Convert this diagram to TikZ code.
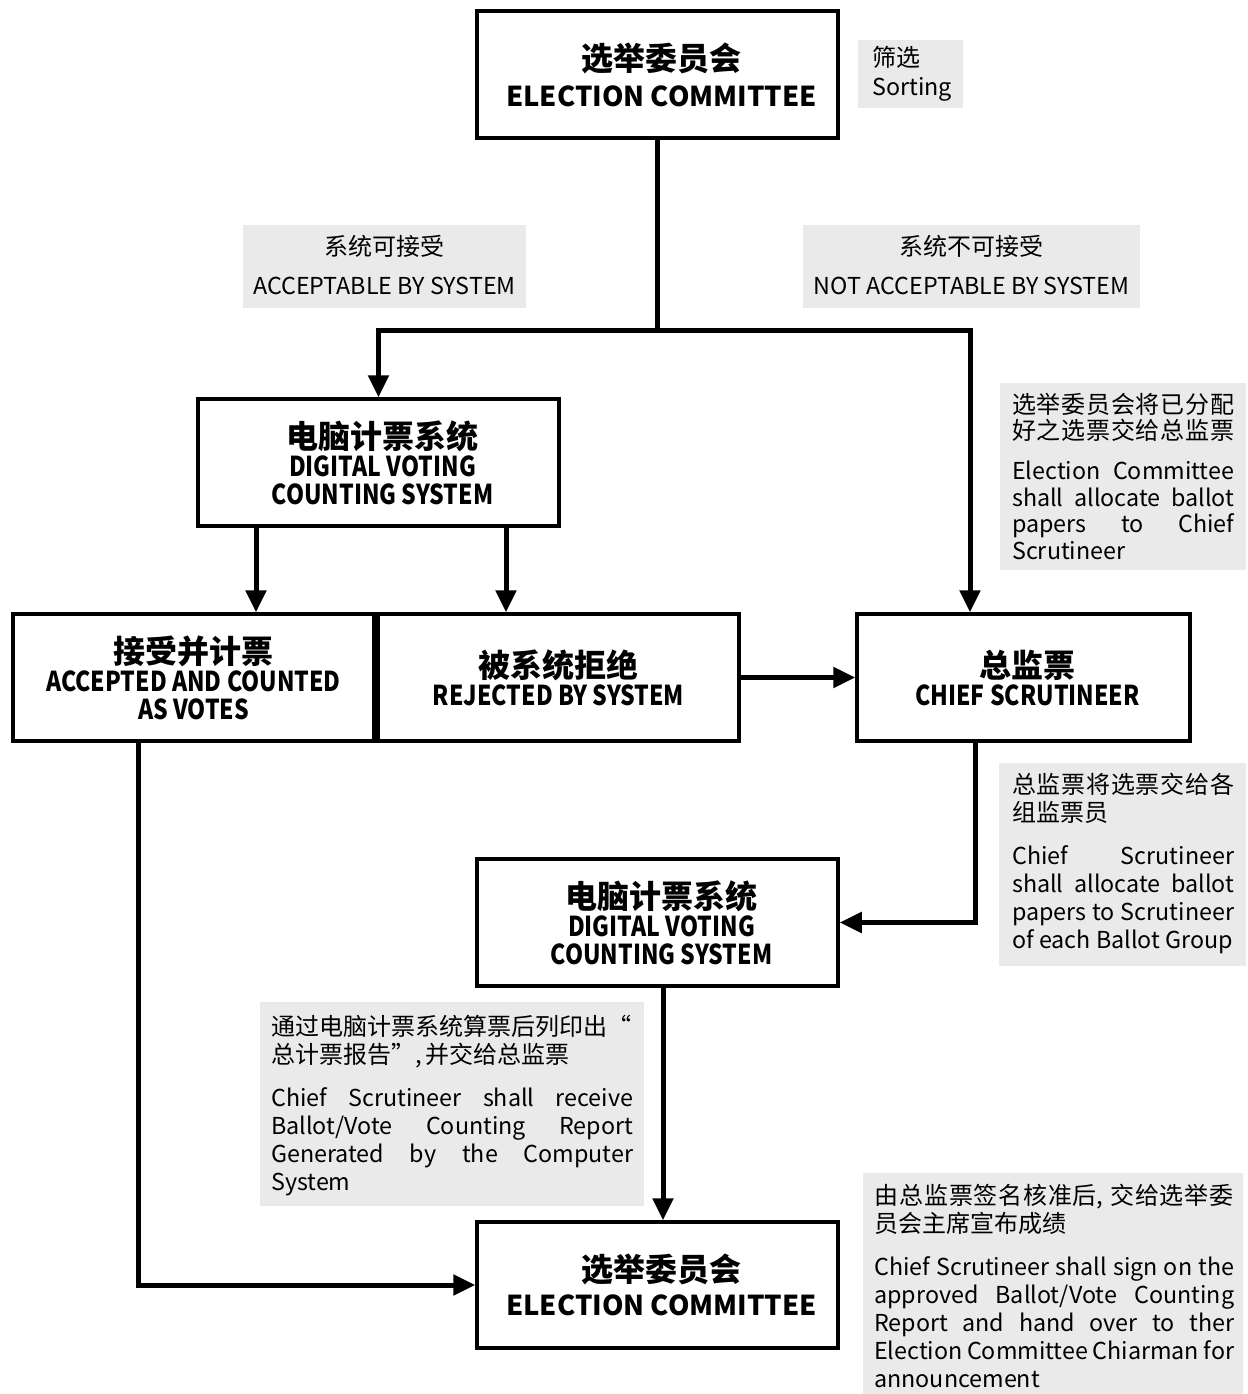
\documentclass[tikz,border=0pt]{standalone}
\usepackage{fontspec}
\usepackage{graphicx}
\setmainfont{Noto Sans CJK SC}
\usetikzlibrary{arrows.meta,calc}
\definecolor{notebg}{HTML}{EAEAEB}
\newcommand\jl[2]{\makebox[#1][s]{#2}}
\newcommand\zh[1]{{\fontsize{32}{28}\selectfont #1}}
\newcommand\cnd[1]{\scalebox{0.84}[1]{#1}}
\newcommand\zn[1]{{\fontsize{24}{28}\selectfont #1}}
\newcommand\rs[1]{\hspace*{8pt}#1}
\begin{document}
\begin{tikzpicture}[x=1pt,y=-1pt,
  box/.style={draw, line width=3.5pt, minimum width=361pt, minimum height=127pt, inner sep=0pt, align=center, font=\bfseries\fontsize{27.4}{28}\selectfont},
  arr/.style={line width=5pt, -{Triangle[width=20pt,length=22pt]}},
  note/.style={anchor=base west, inner sep=0pt, align=left, font=\fontsize{23.3}{28}\selectfont},
  lbl/.style={anchor=base, inner sep=0pt, align=center, font=\fontsize{23.3}{27}\selectfont}]
\useasboundingbox (0,0) rectangle (1247,1394);

% grey notes
\fill[notebg] (858,40) rectangle (963,108);
\node[note, font=\fontsize{23.3}{27}\selectfont] (srt) at (872,96) {\zn{筛选}\\[2pt]Sorting};
\fill[notebg] (243,225) rectangle (526,308);
\node[lbl] (acl) at (384.5,294) {\zn{系统可接受}\\[12pt]ACCEPTABLE BY SYSTEM};
\fill[notebg] (803,225) rectangle (1140,308);
\node[lbl] (nacl) at (971.5,294) {\zn{系统不可接受}\\[12pt]NOT ACCEPTABLE BY SYSTEM};
\fill[notebg] (1000,383) rectangle (1246,570);
\node[note, font=\fontsize{23.3}{26.5}\selectfont] (n1) at (1012,559) {\zn{\makebox[222pt]{选\hfill 举\hfill 委\hfill 员\hfill 会\hfill 将\hfill 已\hfill 分\hfill 配}}\\\zn{\makebox[222pt]{好\hfill 之\hfill 选\hfill 票\hfill 交\hfill 给\hfill 总\hfill 监\hfill 票}}\\[13.5pt]\jl{222pt}{Election Committee}\\\jl{222pt}{shall allocate ballot}\\\jl{222pt}{papers to Chief}\\Scrutineer};
\fill[notebg] (999,763) rectangle (1246,966);
\node[note] (n2) at (1012,948) {\zn{\makebox[222pt]{总\hfill 监\hfill 票\hfill 将\hfill 选\hfill 票\hfill 交\hfill 给\hfill 各}}\\\zn{组监票员}\\[15pt]\jl{222pt}{Chief Scrutineer}\\\jl{222pt}{shall allocate ballot}\\\jl{222pt}{papers to Scrutineer}\\of each Ballot Group};
\fill[notebg] (260,1002) rectangle (644,1206);
\node[note] (n3) at (271,1190) {\zn{通过电脑计票系统算票后列印出“}\\\zn{总计票报告”,\hspace{4pt}并交给总监票}\\[15pt]\jl{362pt}{Chief Scrutineer shall receive}\\\jl{362pt}{Ballot/Vote Counting Report}\\\jl{362pt}{Generated by the Computer}\\System};
\fill[notebg] (863,1173) rectangle (1243,1394);
\node[note] (n4) at (874,1387) {\zn{\makebox[360pt]{由\hfil 总\hfil 监\hfil 票\hfil 签\hfil 名\hfil 核\hfil 准\hfil 后,\hspace{6pt}\hfil 交\hfil 给\hfil 选\hfil 举\hfil 委}}\\\zn{员会主席宣布成绩}\\[15pt]\jl{360pt}{Chief Scrutineer shall sign on the}\\\jl{360pt}{approved Ballot/Vote Counting}\\\jl{360pt}{Report and hand over to ther}\\\jl{360pt}{Election Committee Chiarman for}\\announcement};

% boxes
\node[box] (ec1) at (657.5,74.5) {\rs{\zh{选举委员会}}\\[8pt]\rs{ELECTION COMMITTEE}};
\node[box] (dv1) at (378.5,462.5) {\rs{\zh{电脑计票系统}}\\\rs{\cnd{DIGITAL VOTING}}\\\rs{\cnd{COUNTING SYSTEM}}};
\node[box] (acc) at (193.5,677.5) {\zh{接受并计票}\\\cnd{ACCEPTED AND COUNTED}\\\cnd{AS VOTES}};
\node[box] (rej) at (558.5,677.5) {\zh{被系统拒绝}\\\cnd{REJECTED BY SYSTEM}};
\node[box, minimum width=333pt] (cs) at (1023.5,677.5) {\rs{\zh{总监票}}\\\rs{\cnd{CHIEF SCRUTINEER}}};
\node[box] (dv2) at (657.5,922.5) {\rs{\zh{电脑计票系统}}\\\rs{\cnd{DIGITAL VOTING}}\\\rs{\cnd{COUNTING SYSTEM}}};
\node[box, minimum height=126pt] (ec2) at (657.5,1285) {\rs{\zh{选举委员会}}\\[6pt]\rs{ELECTION COMMITTEE}};

% connectors
\coordinate (j1) at (657.5,330);
\coordinate (jr) at (970,330);
\draw[arr] (ec1.south) -- (j1) -| (dv1.north);
\draw[arr] (j1) -- (jr) -- (jr |- cs.north);
\draw[arr] ([xshift=-122.5pt]dv1.south) -- ([xshift=-122.5pt]dv1.south |- acc.north);
\draw[arr] ([xshift=127.5pt]dv1.south) -- ([xshift=127.5pt]dv1.south |- rej.north);
\draw[arr] (rej.east) -- (cs.west);
\draw[arr] ([xshift=-48.5pt]cs.south) |- (dv2.east);
\draw[arr] ([xshift=5.5pt]dv2.south) -- ([xshift=5.5pt]dv2.south |- ec2.north);
\draw[arr] ([xshift=-55.5pt]acc.south) |- (ec2.west);
\end{tikzpicture}
\end{document}
